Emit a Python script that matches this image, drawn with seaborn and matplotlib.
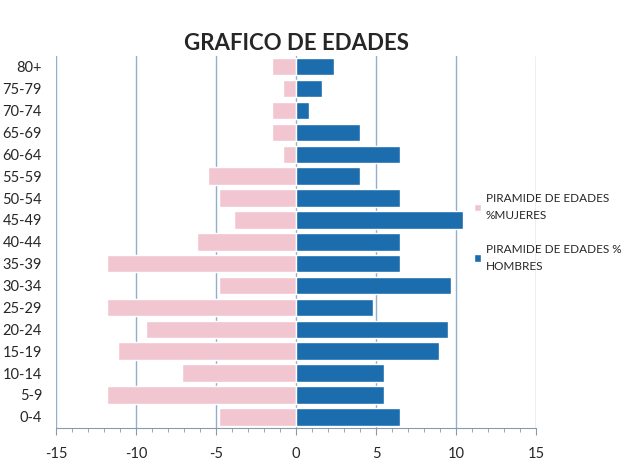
import matplotlib
matplotlib.use("Agg")
import matplotlib.pyplot as plt
import seaborn as sns
import pandas as pd
from matplotlib.ticker import MultipleLocator

# age groups, top to bottom
age_groups = ["80+", "75-79", "70-74", "65-69", "60-64", "55-59", "50-54", "45-49",
              "40-44", "35-39", "30-34", "25-29", "20-24", "15-19", "10-14", "5-9", "0-4"]
# women shown as negative percentages
mujeres = [-1.5, -0.8, -1.5, -1.5, -0.8, -5.5, -4.8, -3.9,
           -6.2, -11.8, -4.8, -11.8, -9.4, -11.1, -7.1, -11.8, -4.8]
hombres = [2.4, 1.6, 0.8, 4.0, 6.5, 4.0, 6.5, 10.4,
           6.5, 6.5, 9.7, 4.8, 9.5, 8.9, 5.5, 5.5, 6.5]
series_names = ["PIRAMIDE DE EDADES\n%MUJERES", "PIRAMIDE DE EDADES %\nHOMBRES"]
x_ticks = [-15, -10, -5, 0, 5, 10, 15]

df = pd.DataFrame({"edad": age_groups, series_names[0]: mujeres, series_names[1]: hombres})
df_long = df.melt(id_vars="edad", var_name="serie", value_name="pct")

sns.set_style("white")
plt.rcParams["font.family"] = ["Lato", "DejaVu Sans"]

fig = plt.figure(figsize=(6.22, 4.65), dpi=100)
fig.patch.set_facecolor("white")
ax = fig.add_axes([0.09, 0.08, 0.772, 0.80])

sns.barplot(data=df_long, x="pct", y="edad", hue="serie", order=age_groups,
            palette=["#f2c6d1", "#1c6dae"], saturation=1, dodge=False, width=0.8,
            orient="h", ax=ax, zorder=3)

ax.set_xlim(-15, 15)
ax.set_ylim(len(age_groups) - 0.5, -0.5)
ax.set_xticks(x_ticks)
ax.set_xticklabels([str(t) for t in x_ticks], fontsize=10.5)
ax.xaxis.set_minor_locator(MultipleLocator(1))
ax.tick_params(axis="x", which="major", length=5, color="#8a9aa8", pad=9)
ax.tick_params(axis="x", which="minor", length=3, color="#8a9aa8")
ax.tick_params(axis="x", which="both", bottom=True, direction="out")
ax.tick_params(axis="y", length=0, labelsize=10.5, pad=10)
ax.set_xlabel("")
ax.set_ylabel("")

ax.grid(axis="x", color="#8fb0cc", linewidth=1.0, zorder=0)
for side in ["top", "right", "left"]:
    ax.spines[side].set_visible(False)
ax.spines["bottom"].set_color("#8a9aa8")

ax.set_title("GRAFICO DE EDADES", fontsize=16, fontweight="bold", pad=4)

handles, labels = ax.get_legend_handles_labels()
leg = ax.legend(handles, labels, loc="upper left", bbox_to_anchor=(0.762, 0.585),
                bbox_transform=fig.transFigure, frameon=False, fontsize=8.5,
                handlelength=0.6, handleheight=0.6, handletextpad=0.4,
                labelspacing=1.9, borderaxespad=0, borderpad=0)
for t in leg.get_texts():
    t.set_linespacing(1.7)

plt.savefig("out.png", dpi=100)
